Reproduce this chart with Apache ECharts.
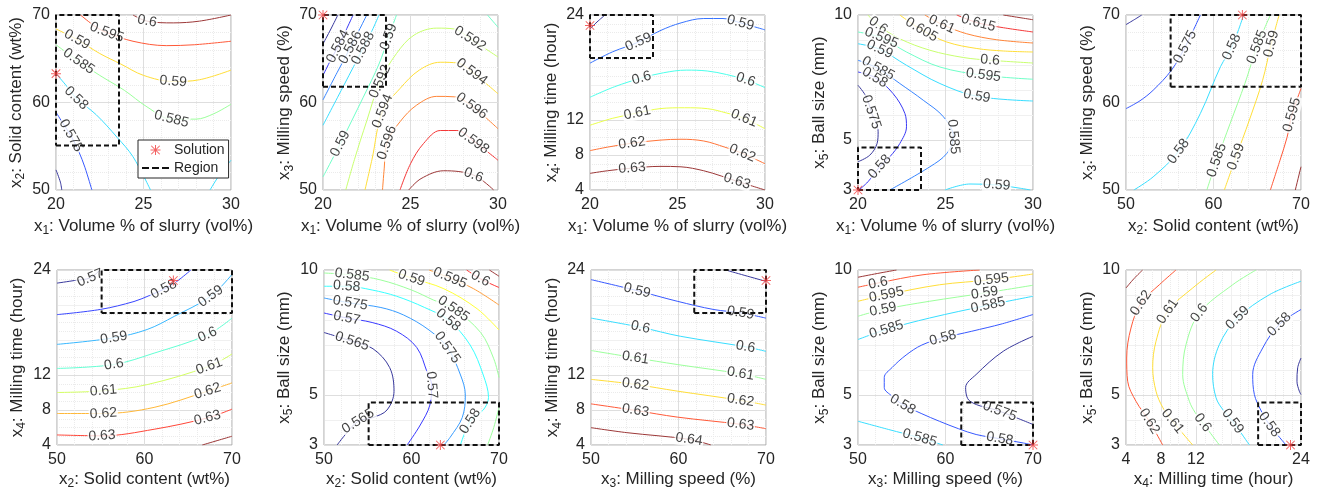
<!DOCTYPE html>
<html>
<head>
<meta charset="utf-8">
<script src="https://cdn.jsdelivr.net/npm/echarts@6/dist/echarts.min.js"></script>
<style>
  html, body { margin: 0; padding: 0; background: #fff; }
  #chart { width: 1318px; height: 497px; }
</style>
</head>
<body>
<div id="chart"></div>
<script>
// variables x1..x5
var varSub = ['1', '2', '3', '4', '5'];
var varText = [': Volume % of slurry (vol%)', ': Solid content (wt%)', ': Milling speed (%)', ': Milling time (hour)', ': Ball size (mm)'];
var varMin = [20, 50, 50, 4, 3];
var varMax = [30, 70, 70, 24, 10];
var varStep = [5, 10, 10, 4, 1];
var varTicks = [[20, 25, 30], [50, 60, 70], [50, 60, 70], [4, 8, 12, 24], [3, 5, 10]];

// which pair of variables each panel shows [x, y]
var panelVars = [[0, 1], [0, 2], [0, 3], [0, 4], [1, 2], [1, 3], [1, 4], [2, 3], [2, 4], [3, 4]];

// optimum and the region round it
var solution = [20, 63.3, 70, 22.8, 3];
var regionLo = [20, 55.1, 61.8, 19.1, 3];
var regionHi = [23.6, 70, 70, 24, 4.7];

// contour lines: [level, label point indexes, points]
var contours1 = [
  [0.57, [], [[20, 52.3], [20.25, 50.9], [20.33, 50]]],
  [0.575, [2], [[20, 58.9], [20.4, 57.6], [20.85, 56.2], [21.3, 54.4], [21.65, 52.6], [22.05, 50]]],
  [0.58, [2], [[20, 63.3], [20.6, 61.9], [21.15, 60.5], [22.3, 58.6], [23.5, 56.0], [24.4, 53.8], [25.4, 50]]],
  [0.58, [], [[28.8, 50], [29.4, 51.9], [30, 53.4]]],
  [0.585, [1, 5], [[20, 66.6], [21.3, 64.7], [22.5, 63.1], [23.9, 61.4], [25.2, 59.5], [26.6, 58.1], [28.0, 58.1], [29.0, 58.7], [30, 59.8]]],
  [0.59, [1, 5], [[20, 68.4], [21.2, 67.2], [22.5, 65.6], [23.7, 64.4], [25, 63.1], [26.7, 62.4], [28.2, 62.6], [30, 63.7]]],
  [0.595, [2], [[21.4, 70], [22.3, 68.6], [22.9, 68.0], [24.4, 67.0], [26.3, 66.5], [27.9, 66.6], [30, 67.0]]],
  [0.6, [1], [[24.4, 70], [25.2, 69.3], [26.7, 69.1], [28.2, 69.3], [30, 70]]]
];
var contours2 = [
  [0.582, [], [[20, 66.7], [20.45, 68.4], [20.85, 70]]],
  [0.584, [2], [[20, 63.1], [20.45, 64.9], [20.86, 66.4], [21.3, 68.2], [21.72, 70]]],
  [0.586, [2], [[20, 60.3], [20.8, 63.4], [21.57, 66.3], [22.05, 68.2], [22.5, 70]]],
  [0.588, [2], [[20, 57.4], [21.2, 62.0], [22.29, 66.2], [22.8, 68.2], [23.2, 70]]],
  [0.59, [1, 4], [[20, 51.5], [20.99, 55.3], [22.3, 60.6], [23.2, 64.4], [23.75, 67.5], [24.2, 70]]],
  [0.59, [], [[29.4, 70], [30, 68.6]]],
  [0.592, [3, 8], [[21.3, 50], [21.8, 53.5], [22.5, 57.9], [23.26, 62.4], [24.2, 65.6], [25.2, 67.7], [26.5, 68.5], [27.5, 68.4], [28.4, 67.3], [30, 65.2]]],
  [0.594, [2, 7], [[22.4, 50], [22.8, 53.5], [23.4, 59.0], [24.4, 61.6], [25.5, 63.7], [26.7, 64.6], [27.7, 64.5], [28.5, 63.5], [30, 61.0]]],
  [0.596, [2, 7], [[23.4, 50], [23.5, 52.5], [23.65, 55.4], [24.4, 57.8], [25.35, 59.7], [26.5, 60.7], [27.5, 60.65], [28.5, 59.6], [30, 57.0]]],
  [0.598, [5], [[24.4, 50], [25.0, 53.0], [25.74, 55.3], [26.7, 56.8], [27.65, 56.8], [28.6, 55.6], [30, 53.4]]],
  [0.6, [3], [[24.9, 50], [25.6, 51.3], [26.9, 52.2], [28.6, 51.7], [29.75, 50]]]
];
var contours3 = [
  [0.58, [], [[20, 22.4], [20.4, 23.2], [20.86, 24]]],
  [0.59, [2, 7], [[20, 18.5], [21.3, 19.8], [22.77, 20.9], [24.0, 22.2], [25.2, 23.1], [26.5, 23.6], [27.6, 23.6], [28.6, 23.1], [30, 22.3]]],
  [0.6, [2, 7], [[20, 14.6], [21.4, 15.8], [22.95, 16.8], [24.2, 17.4], [25.5, 17.7], [26.7, 17.6], [27.8, 17.2], [28.9, 16.6], [30, 15.7]]],
  [0.61, [2, 7], [[20, 11.4], [21.3, 12.2], [22.7, 12.8], [24.0, 13.3], [25.4, 13.4], [26.7, 13.3], [27.8, 12.8], [28.8, 12.2], [30, 11.0]]],
  [0.62, [2, 7], [[20, 8.5], [21.0, 8.9], [22.4, 9.35], [24.0, 9.7], [25.2, 9.8], [26.5, 9.6], [27.7, 8.9], [28.7, 8.2], [30, 7.0]]],
  [0.63, [2, 7], [[20, 5.9], [21.0, 6.2], [22.4, 6.5], [24.0, 6.7], [25.2, 6.65], [26.5, 6.2], [27.5, 5.6], [28.4, 5.0], [30, 4.0]]]
];
var contours4 = [
  [0.62, [], [[28.3, 10], [29.2, 9.9], [30, 9.81]]],
  [0.615, [1], [[25.64, 10], [26.88, 9.68], [28.32, 9.49], [30, 9.32]]],
  [0.61, [1], [[23.82, 10], [24.78, 9.63], [26.21, 9.25], [27.93, 9.01], [30, 8.88]]],
  [0.605, [1], [[22.39, 10], [23.63, 9.41], [25.07, 8.92], [26.79, 8.66], [28.32, 8.56], [30, 8.52]]],
  [0.6, [1, 5], [[20.57, 10], [21.15, 9.59], [22.39, 9.05], [24.11, 8.59], [26.02, 8.3], [27.55, 8.19], [30, 8.08]]],
  [0.595, [1, 4], [[20, 9.32], [21.34, 9.09], [22.77, 8.52], [24.68, 7.92], [27.17, 7.59], [30, 7.43]]],
  [0.59, [1, 4], [[20, 8.85], [21.24, 8.63], [22.77, 7.99], [24.68, 7.26], [26.79, 6.75], [30, 6.56]]],
  [0.59, [2], [[24.97, 3], [26.4, 3.24], [27.93, 3.2], [29.27, 3.07], [29.85, 3]]],
  [0.585, [1, 5], [[20, 8.19], [21.15, 7.86], [22.39, 7.26], [23.73, 6.59], [24.88, 5.93], [25.45, 5.13], [25.07, 4.46], [24.11, 3.93], [21.82, 3.0]]],
  [0.58, [1, 7], [[20, 7.72], [20.96, 7.5], [22.0, 6.86], [22.68, 6.06], [22.77, 5.53], [22.39, 4.86], [21.82, 4.33], [21.24, 3.93], [20.57, 3.33], [20.05, 3]]],
  [0.575, [2], [[20, 7.19], [20.48, 6.72], [20.76, 6.12], [21.15, 5.33], [21.09, 4.86], [20.67, 4.39], [20, 4.13]]]
];
var contours5 = [
  [0.57, [], [[50, 68.9], [51.0, 69.5], [51.8, 70]]],
  [0.575, [4], [[50, 59.3], [51.6, 60.2], [53.1, 61.4], [55.2, 63.7], [56.76, 66.35], [58.5, 70]]],
  [0.58, [2, 5], [[50.9, 50], [53.1, 51.5], [56.0, 54.4], [58.5, 58.75], [60.8, 64.1], [62.1, 66.35], [63.44, 70]]],
  [0.585, [1, 4], [[59.24, 50], [60.38, 53.42], [61.9, 57.6], [63.6, 62.2], [64.96, 66.35], [66.5, 70]]],
  [0.59, [1, 4], [[61.24, 50], [62.58, 53.8], [64.1, 58.0], [65.6, 62.5], [66.6, 66.7], [67.5, 70]]],
  [0.595, [3], [[66.5, 50], [67.6, 53.4], [68.4, 56.0], [68.97, 58.6], [70, 61.6]]],
  [0.6, [], [[69.35, 50], [70, 52.66]]]
];
var contours6 = [
  [0.57, [2], [[50, 22.5], [52.0, 22.8], [53.8, 23.1], [54.9, 24]]],
  [0.58, [4], [[50, 18.9], [55.0, 19.5], [58.8, 20.4], [60.6, 21.1], [62.2, 21.8], [63.7, 22.7], [65.3, 24]]],
  [0.59, [1, 4], [[50, 15.5], [56.5, 16.25], [60.3, 17.2], [63.4, 18.7], [67.56, 21.0], [70, 23.5]]],
  [0.6, [1, 3], [[50, 12.75], [56.5, 13.2], [61.1, 14.5], [67.2, 16.6], [70, 18.5]]],
  [0.61, [1, 3], [[50, 10.0], [55.3, 10.2], [60.3, 10.9], [67.4, 13.0], [70, 14.4]]],
  [0.62, [1, 3], [[50, 7.6], [55.3, 7.6], [61.1, 8.3], [67.2, 10.15], [70, 11.1]]],
  [0.63, [1, 3], [[50, 5.15], [55.15, 5.05], [61.1, 5.8], [67.2, 7.1], [70, 8.1]]],
  [0.64, [], [[66.6, 4], [68.3, 4.5], [70, 5.0]]]
];
var contours7 = [
  [0.605, [], [[68.9, 10], [70, 9.75]]],
  [0.6, [1], [[66.3, 10], [67.86, 9.65], [70, 9.3]]],
  [0.595, [1], [[62.0, 10], [64.4, 9.68], [67.1, 9.25], [70, 8.6]]],
  [0.59, [1], [[57.5, 10], [60.0, 9.68], [63.7, 9.25], [67.5, 8.45], [70, 7.6]]],
  [0.585, [1, 5], [[50, 9.88], [53.2, 9.8], [56.5, 9.6], [60.0, 9.2], [62.5, 8.8], [64.8, 8.45], [67.9, 7.5], [69.4, 6.45], [70, 5.7]]],
  [0.585, [], [[70, 4.5], [69.4, 3.7], [68.7, 3.0]]],
  [0.58, [1, 5, 10], [[50, 9.35], [52.6, 9.35], [55.5, 9.2], [58.3, 8.95], [61.5, 8.5], [64.2, 8.0], [66.7, 7.0], [68.2, 5.8], [68.8, 4.9], [68.2, 4.4], [66.7, 3.95], [65.6, 3.0]]],
  [0.575, [1, 5], [[50, 8.88], [53.0, 8.68], [56.5, 8.5], [59.1, 8.2], [62.0, 7.6], [64.1, 6.9], [65.6, 5.8], [66.15, 5.0], [65.8, 4.1], [64.4, 3.3], [63.7, 3.0]]],
  [0.57, [1, 6], [[50, 8.28], [52.6, 8.08], [55.5, 7.9], [58.3, 7.55], [60.6, 6.9], [61.8, 5.9], [62.3, 5.4], [62.1, 4.6], [61.0, 3.8], [59.5, 3.0]]],
  [0.565, [1, 7], [[50, 7.5], [53.2, 7.15], [55.6, 6.85], [57.5, 6.1], [58.0, 5.15], [57.2, 4.4], [55.6, 4.1], [53.9, 3.95], [52.4, 3.4], [51.5, 3.0]]]
];
var contours8 = [
  [0.58, [], [[65.4, 24], [67.5, 23.4], [70, 22.7]]],
  [0.59, [1, 4], [[50, 22.9], [55.27, 21.64], [59.85, 20.43], [64.05, 19.48], [67.1, 19.1], [70, 18.5]]],
  [0.6, [1, 3], [[50, 18.5], [55.65, 17.46], [60.2, 16.43], [67.67, 15.22], [70, 14.7]]],
  [0.61, [1, 3], [[50, 14.8], [55.08, 13.96], [59.85, 13.2], [67.1, 12.14], [70, 11.5]]],
  [0.62, [1, 3], [[50, 11.5], [55.08, 10.92], [59.85, 10.16], [67.1, 9.1], [70, 8.56]]],
  [0.63, [1, 3], [[50, 8.7], [55.08, 7.95], [59.85, 7.19], [67.1, 6.36], [70, 5.86]]],
  [0.64, [2], [[50, 5.98], [54.1, 5.41], [61.2, 4.65], [63.7, 4.0]]]
];
var contours9 = [
  [0.605, [], [[50, 9.71], [52.2, 9.86], [54.4, 10]]],
  [0.6, [1], [[50, 9.31], [52.29, 9.48], [57.43, 9.81], [63.9, 10]]],
  [0.595, [1, 3], [[50, 8.75], [53.24, 9.01], [59.33, 9.41], [65.24, 9.61], [70, 9.84]]],
  [0.59, [1, 3], [[50, 8.15], [52.86, 8.42], [58.19, 8.75], [64.48, 9.08], [70, 9.39]]],
  [0.585, [1, 3], [[50, 7.22], [53.24, 7.62], [58.19, 8.08], [64.86, 8.59], [70, 8.95]]],
  [0.585, [2], [[50, 3.95], [53.5, 3.62], [57.05, 3.29], [59.7, 3.0]]],
  [0.58, [3, 10, 15], [[70, 8.22], [66.5, 7.85], [63.0, 7.55], [59.7, 7.28], [57.3, 7.0], [55.5, 6.6], [53.9, 6.1], [53.0, 5.7], [53.0, 5.3], [53.9, 4.95], [55.1, 4.62], [57.3, 4.25], [59.3, 3.95], [61.5, 3.65], [63.5, 3.42], [66.2, 3.25], [68.9, 3.08], [70, 3.0]]],
  [0.575, [5], [[70, 7.35], [66.6, 6.75], [63.5, 5.82], [62.3, 5.3], [62.8, 4.75], [66.19, 4.35], [70, 3.82]]]
];
var contours10 = [
  [0.63, [], [[4, 9.28], [4.9, 9.65], [5.9, 10]]],
  [0.62, [2, 7], [[9.71, 10], [7.81, 9.41], [5.71, 8.68], [4.57, 7.68], [4.08, 6.48], [4.19, 5.55], [5.14, 4.75], [6.67, 3.95], [8.19, 3.0]]],
  [0.61, [2, 7], [[14.29, 10], [11.62, 9.28], [8.76, 8.35], [7.43, 7.15], [7.05, 6.09], [7.43, 5.15], [8.2, 4.5], [9.33, 3.95], [11.62, 3.0]]],
  [0.6, [2, 7], [[18.86, 10], [16.19, 9.41], [12.38, 8.28], [10.86, 7.02], [10.48, 5.82], [11.24, 4.75], [11.9, 4.3], [12.76, 3.89], [14.67, 3.0]]],
  [0.59, [2, 7], [[24, 9.55], [20.38, 9.01], [16.76, 8.08], [14.67, 7.02], [13.9, 5.82], [14.29, 4.89], [15.1, 4.4], [16.19, 3.95], [18.1, 3.0]]],
  [0.58, [1, 6], [[24, 8.42], [21.52, 7.82], [19.62, 6.88], [18.48, 5.82], [18.67, 5.02], [19.4, 4.4], [20.38, 3.82], [22.29, 3.0]]],
  [0.57, [], [[24, 6.48], [23.62, 6.09], [23.54, 5.55], [23.81, 5.15], [24, 5.02]]]
];
var contours = [contours1, contours2, contours3, contours4, contours5, contours6, contours7, contours8, contours9, contours10];

// layout (px)
var gridLeft = [56, 323, 590, 858, 1126, 57, 324, 591, 858, 1126];
var gridTop = [15, 15, 15, 15, 15, 270, 270, 270, 270, 270];
var W = 175, H = 175;
var yNameGap = [29, 26, 21, 17, 19, 29, 29, 27, 21, 22];
var xNameGap = [25, 25, 25, 25, 25, 23, 23, 23, 23, 23];
var minorSplit = [5, 5, 5, 4, 0];

var txt = '#262626';
var starPath = 'path://M9,0h2v20h-2z M0,9h20v2h-20z M2.2,0.8L19.2,17.8L17.8,19.2L0.8,2.2z M17.8,0.8L19.2,2.2L2.2,19.2L0.8,17.8z';
var dashPath = 'path://M0,0h7v2h-7z M10,0h7v2h-7z M20,0h7v2h-7z';

function clamp(v) { return Math.max(0, Math.min(1, v)); }
// jet colour map, a bit washed out like the thin matlab lines
function jet(t) {
  var r = clamp(1.5 - Math.abs(4 * t - 3));
  var g = clamp(1.5 - Math.abs(4 * t - 2));
  var b = clamp(1.5 - Math.abs(4 * t - 1));
  var f = function(c) { return Math.round((c * 0.78 + 0.22) * 255); };
  return 'rgb(' + f(r) + ',' + f(g) + ',' + f(b) + ')';
}

function gridColors(v) {
  var out = [];
  for (var t = varMin[v]; t <= varMax[v] + 1e-9; t += varStep[v]) {
    out.push(varTicks[v].indexOf(t) >= 0 ? '#dedede' : '#f0f0f0');
  }
  return out;
}

function makeAxis(v, p, isY) {
  return {
    type: 'value',
    gridIndex: p,
    min: varMin[v],
    max: varMax[v],
    interval: varStep[v],
    name: '{t|x}{s|' + varSub[v] + '}{t|' + varText[v] + '}',
    nameLocation: 'middle',
    nameGap: isY ? yNameGap[p] : xNameGap[p],
    nameTextStyle: {
      rich: {
        t: { fontSize: 17, color: txt, fontFamily: 'Liberation Sans' },
        s: { fontSize: 12, color: txt, fontFamily: 'Liberation Sans', padding: [10, 0, 0, 0] }
      }
    },
    axisLine: { show: false },
    axisTick: { show: false },
    axisLabel: {
      fontSize: 16,
      color: txt,
      fontFamily: 'Liberation Sans',
      margin: isY ? 6 : 7,
      formatter: function(val) {
        return varTicks[v].indexOf(val) >= 0 ? String(val) : '';
      }
    },
    splitLine: { show: true, lineStyle: { color: gridColors(v), width: 1 } },
    minorTick: { show: false, splitNumber: minorSplit[v] || 1 },
    minorSplitLine: { show: minorSplit[v] > 0, lineStyle: { color: '#ebebeb', type: 'dotted', width: 1 } }
  };
}

function labelAngle(pts, i, vx, vy) {
  var a = pts[Math.max(i - 1, 0)];
  var b = pts[Math.min(i + 1, pts.length - 1)];
  var dx = (b[0] - a[0]) / (varMax[vx] - varMin[vx]) * W;
  var dy = (b[1] - a[1]) / (varMax[vy] - varMin[vy]) * H;
  var ang = Math.atan2(dy, dx) * 180 / Math.PI;
  if (ang > 90) ang -= 180;
  if (ang < -90) ang += 180;
  return ang;
}

var grids = [], xAxes = [], yAxes = [], series = [];

for (var p = 0; p < 10; p++) {
  var vx = panelVars[p][0], vy = panelVars[p][1];
  grids.push({ left: gridLeft[p], top: gridTop[p], width: W, height: H, show: true, borderColor: '#a6a6a6', borderWidth: 1, backgroundColor: '#fff', outerBoundsMode: 'none' });
  xAxes.push(makeAxis(vx, p, false));
  yAxes.push(makeAxis(vy, p, true));

  var list = contours[p];
  var lo = Infinity, hi = -Infinity;
  list.forEach(function(c) { lo = Math.min(lo, c[0]); hi = Math.max(hi, c[0]); });

  var labelData = [];
  list.forEach(function(c) {
    series.push({
      type: 'line',
      xAxisIndex: p,
      yAxisIndex: p,
      data: c[2],
      smooth: 0.35,
      symbol: 'none',
      silent: true,
      z: 2,
      lineStyle: { color: jet((c[0] - lo) / (hi - lo)), width: 1 }
    });
    c[1].forEach(function(i) {
      labelData.push({
        value: [c[2][i][0], c[2][i][1], c[0]],
        label: { rotate: labelAngle(c[2], i, vx, vy) }
      });
    });
  });

  // inline contour labels
  series.push({
    type: 'scatter',
    xAxisIndex: p,
    yAxisIndex: p,
    data: labelData,
    symbolSize: 1,
    silent: true,
    z: 4,
    itemStyle: { color: 'rgba(0,0,0,0)' },
    label: {
      show: true,
      position: 'inside',
      fontSize: 14,
      fontFamily: 'Liberation Sans',
      color: '#111',
      backgroundColor: '#fff',
      padding: [0, 1],
      formatter: function(d) { return String(d.value[2]); }
    }
  });

  var x0 = regionLo[vx], x1 = regionHi[vx], y0 = regionLo[vy], y1 = regionHi[vy];
  series.push({
    name: 'Region',
    type: 'line',
    xAxisIndex: p,
    yAxisIndex: p,
    data: [[x0, y0], [x1, y0], [x1, y1], [x0, y1], [x0, y0]],
    symbol: 'none',
    clip: false,
    silent: true,
    z: 5,
    itemStyle: { color: '#111' },
    lineStyle: { color: '#111', width: 2, type: [5, 3] }
  });
  series.push({
    name: 'Solution',
    type: 'scatter',
    xAxisIndex: p,
    yAxisIndex: p,
    data: [[solution[vx], solution[vy]]],
    symbol: starPath,
    symbolSize: 10,
    clip: false,
    silent: true,
    z: 6,
    itemStyle: { color: '#f03c3c' }
  });
}

var myChart = echarts.init(document.getElementById('chart'), null, { renderer: 'canvas' });
var option = {
  animation: false,
  backgroundColor: '#fff',
  textStyle: { fontFamily: 'Liberation Sans' },
  grid: grids,
  xAxis: xAxes,
  yAxis: yAxes,
  legend: {
    left: 138,
    top: 140,
    orient: 'vertical',
    itemGap: 4,
    itemWidth: 27,
    itemHeight: 10,
    padding: [3, 4, 3, 4],
    borderColor: '#262626',
    borderWidth: 1,
    borderRadius: 0,
    backgroundColor: '#fff',
    selectedMode: false,
    z: 10,
    textStyle: { fontSize: 14, color: txt, fontFamily: 'Liberation Sans' },
    data: [
      { name: 'Solution', icon: starPath, itemStyle: { color: '#f03c3c' } },
      { name: 'Region', icon: dashPath, itemStyle: { color: '#111' } }
    ]
  },
  series: series
};
myChart.setOption(option);
</script>
</body>
</html>
